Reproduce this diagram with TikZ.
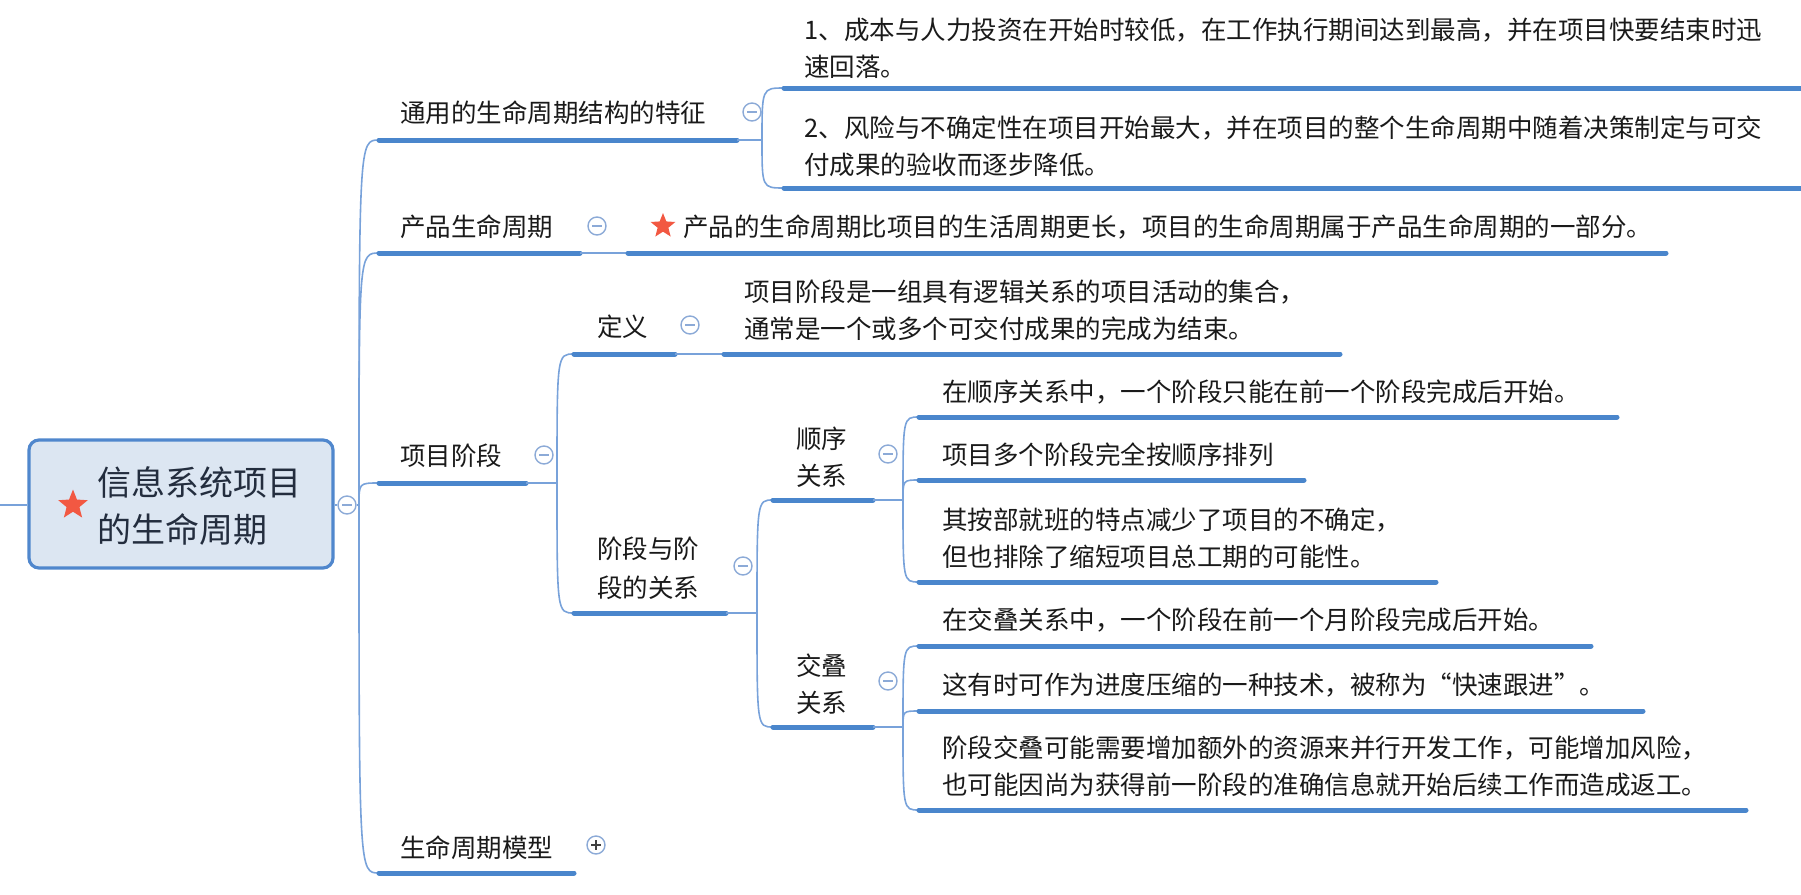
\documentclass[tikz,border=0pt]{standalone}
\usepackage{fontspec}
\setmainfont{Noto Sans CJK SC}
\usetikzlibrary{shapes.geometric}
\definecolor{lineblue}{RGB}{74,134,204}
\definecolor{thinblue}{RGB}{120,162,218}
\definecolor{rootfill}{RGB}{220,230,242}
\definecolor{rootdraw}{RGB}{80,135,205}
\definecolor{circblue}{RGB}{140,170,215}
\definecolor{starred}{RGB}{242,88,66}
\definecolor{txt}{RGB}{26,26,26}
\definecolor{roottxt}{RGB}{35,45,62}
\tikzset{
  ul/.style={line width=2.5pt, lineblue, line cap=round},
  conn/.style={line width=0.8pt, thinblue},
  lbl/.style={anchor=west, inner sep=0pt, align=left, text=txt,
    font=\fontsize{12.75}{17.5}\selectfont},
  lbltwo/.style={lbl, font=\fontsize{12.75}{18.5}\selectfont},
  collapse/.style={circle, draw=circblue, fill=white, line width=0.7pt,
    minimum size=9pt, inner sep=0pt,
    path picture={\draw[circblue, line width=0.8pt]
      ([xshift=-2.4pt]path picture bounding box.center) --
      ([xshift=2.4pt]path picture bounding box.center);}},
  expandmark/.style={circle, draw=circblue, fill=white, line width=0.7pt,
    minimum size=9pt, inner sep=0pt,
    path picture={\draw[black!75, line width=0.8pt]
      ([xshift=-2.4pt]path picture bounding box.center) --
      ([xshift=2.4pt]path picture bounding box.center)
      ([yshift=-2.4pt]path picture bounding box.center) --
      ([yshift=2.4pt]path picture bounding box.center);}},
  starmark/.style={star, star points=5, star point ratio=2.3, fill=starred,
    draw=none, inner sep=0pt, minimum size=13pt},
  rootbox/.style={draw=rootdraw, fill=rootfill, line width=1.6pt,
    rounded corners=5pt, minimum width=152pt, minimum height=64pt, inner sep=0pt}
}
\begin{document}
\begin{tikzpicture}[x=0.5pt,y=-0.5pt]
\useasboundingbox (0,0) rectangle (1801,895);

% ---------- root ----------
\node[rootbox] (root) at (181,504) {};
\node[starmark, minimum size=15.5pt] (rootstar) at (73,505) {};
\node[anchor=west, inner sep=0pt, align=left, text=roottxt,
  font=\fontsize{17}{23.5}\selectfont] (rootT) at (97,506) {信息系统项目\\的生命周期};
\coordinate (L0) at (0,505);
\node[collapse] (c0) at (347,505) {};
\coordinate (j0) at (359,505);
\draw[conn, line width=1pt] (L0) -- (root.west |- L0);
\draw[conn] (root.east |- c0) -- (c0);
\draw[conn] (c0) -- (j0);

% ---------- A ----------
\coordinate (As) at (379,140); \coordinate (Ae) at (737,140);
\node[lbl] (A) at (400,113) {通用的生命周期结构的特征};
\node[collapse] (cA) at (752,112) {};
\coordinate (jA) at (762,140);
\draw[conn] (j0) .. controls (j0 |- As) .. (As);
\draw[ul] (As) -- (Ae);
\draw[conn] (Ae) -- (jA);

\coordinate (A1s) at (784,88); \coordinate (A1e) at (1810,88);
\node[lbltwo] (A1) at (804,48) {1、成本与人力投资在开始时较低，在工作执行期间达到最高，并在项目快要结束时迅\\速回落。};
\coordinate (A2s) at (784,188); \coordinate (A2e) at (1810,188);
\node[lbltwo] (A2) at (804,146) {2、风险与不确定性在项目开始最大，并在项目的整个生命周期中随着决策制定与可交\\付成果的验收而逐步降低。};
\draw[conn] (jA) .. controls (jA |- A1s) .. (A1s);
\draw[conn] (jA) .. controls (jA |- A2s) .. (A2s);
\draw[ul] (A1s) -- (A1e);
\draw[ul] (A2s) -- (A2e);

% ---------- B ----------
\coordinate (Bs) at (379,253); \coordinate (Be) at (580,253);
\node[lbl] (B) at (400,227) {产品生命周期};
\node[collapse] (cB) at (597,226) {};
\coordinate (B1s) at (628,253); \coordinate (B1e) at (1666,253);
\node[starmark] (Bstar) at (663,226) {};
\node[lbl] (B1) at (683,227) {产品的生命周期比项目的生活周期更长，项目的生命周期属于产品生命周期的一部分。};
\draw[conn] (j0) .. controls (j0 |- Bs) .. (Bs);
\draw[ul] (Bs) -- (Be);
\draw[conn] (Be) -- (B1s);
\draw[ul] (B1s) -- (B1e);

% ---------- C ----------
\coordinate (Cs) at (379,483); \coordinate (Ce) at (526,483);
\node[lbl] (C) at (400,456) {项目阶段};
\node[collapse] (cC) at (544,455) {};
\coordinate (jC) at (557,483);
\draw[conn] (j0) .. controls (j0 |- Cs) .. (Cs);
\draw[ul] (Cs) -- (Ce);
\draw[conn] (Ce) -- (jC);

% C1 定义
\coordinate (C1s) at (574,354); \coordinate (C1e) at (675,354);
\node[lbl] (C1) at (597,327) {定义};
\node[collapse] (cC1) at (690,325) {};
\coordinate (C1ts) at (724,354); \coordinate (C1te) at (1340,354);
\node[lbltwo] (C1t) at (744,310) {项目阶段是一组具有逻辑关系的项目活动的集合，\\通常是一个或多个可交付成果的完成为结束。};
\draw[conn] (jC) .. controls (jC |- C1s) .. (C1s);
\draw[ul] (C1s) -- (C1e);
\draw[conn] (C1e) -- (C1ts);
\draw[ul] (C1ts) -- (C1te);

% C2 阶段与阶段的关系
\coordinate (C2s) at (574,613); \coordinate (C2e) at (726,613);
\node[lbl, font=\fontsize{12.75}{19.5}\selectfont] (C2) at (597,568) {阶段与阶\\段的关系};
\node[collapse] (cC2) at (743,566) {};
\coordinate (jC2) at (757,613);
\draw[conn] (jC) .. controls (jC |- C2s) .. (C2s);
\draw[ul] (C2s) -- (C2e);
\draw[conn] (C2e) -- (jC2);

% C2a 顺序关系
\coordinate (C2as) at (773,500); \coordinate (C2ae) at (873,500);
\node[lbltwo] (C2a) at (796,457) {顺序\\关系};
\node[collapse] (cC2a) at (888,454) {};
\coordinate (jC2a) at (903,500);
\draw[conn] (jC2) .. controls (jC2 |- C2as) .. (C2as);
\draw[ul] (C2as) -- (C2ae);
\draw[conn] (C2ae) -- (jC2a);

\coordinate (a1s) at (919,417); \coordinate (a1e) at (1617,417);
\node[lbl] (a1) at (942,392) {在顺序关系中，一个阶段只能在前一个阶段完成后开始。};
\coordinate (a2s) at (919,480); \coordinate (a2e) at (1304,480);
\node[lbl] (a2) at (942,455) {项目多个阶段完全按顺序排列};
\coordinate (a3s) at (919,582); \coordinate (a3e) at (1436,582);
\node[lbltwo] (a3) at (942,538) {其按部就班的特点减少了项目的不确定，\\但也排除了缩短项目总工期的可能性。};
\draw[conn] (jC2a) .. controls (jC2a |- a1s) .. (a1s);
\draw[conn] (jC2a) .. controls (jC2a |- a2s) .. (a2s);
\draw[conn] (jC2a) .. controls (jC2a |- a3s) .. (a3s);
\draw[ul] (a1s) -- (a1e);
\draw[ul] (a2s) -- (a2e);
\draw[ul] (a3s) -- (a3e);

% C2b 交叠关系
\coordinate (C2bs) at (773,727); \coordinate (C2be) at (873,727);
\node[lbltwo] (C2b) at (796,684) {交叠\\关系};
\node[collapse] (cC2b) at (888,681) {};
\coordinate (jC2b) at (903,727);
\draw[conn] (jC2) .. controls (jC2 |- C2bs) .. (C2bs);
\draw[ul] (C2bs) -- (C2be);
\draw[conn] (C2be) -- (jC2b);

\coordinate (b1s) at (919,646); \coordinate (b1e) at (1591,646);
\node[lbl] (b1) at (942,620) {在交叠关系中，一个阶段在前一个月阶段完成后开始。};
\coordinate (b2s) at (919,711); \coordinate (b2e) at (1643,711);
\node[lbl] (b2) at (942,685) {这有时可作为进度压缩的一种技术，被称为“快速跟进”。};
\coordinate (b3s) at (919,810); \coordinate (b3e) at (1746,810);
\node[lbltwo] (b3) at (942,766) {阶段交叠可能需要增加额外的资源来并行开发工作，可能增加风险，\\也可能因尚为获得前一阶段的准确信息就开始后续工作而造成返工。};
\draw[conn] (jC2b) .. controls (jC2b |- b1s) .. (b1s);
\draw[conn] (jC2b) .. controls (jC2b |- b2s) .. (b2s);
\draw[conn] (jC2b) .. controls (jC2b |- b3s) .. (b3s);
\draw[ul] (b1s) -- (b1e);
\draw[ul] (b2s) -- (b2e);
\draw[ul] (b3s) -- (b3e);

% ---------- D ----------
\coordinate (Ds) at (379,873); \coordinate (De) at (574,873);
\node[lbl] (D) at (400,848) {生命周期模型};
\node[expandmark] (cD) at (596,845) {};
\draw[conn] (j0) .. controls (j0 |- Ds) .. (Ds);
\draw[ul] (Ds) -- (De);
\end{tikzpicture}
\end{document}
